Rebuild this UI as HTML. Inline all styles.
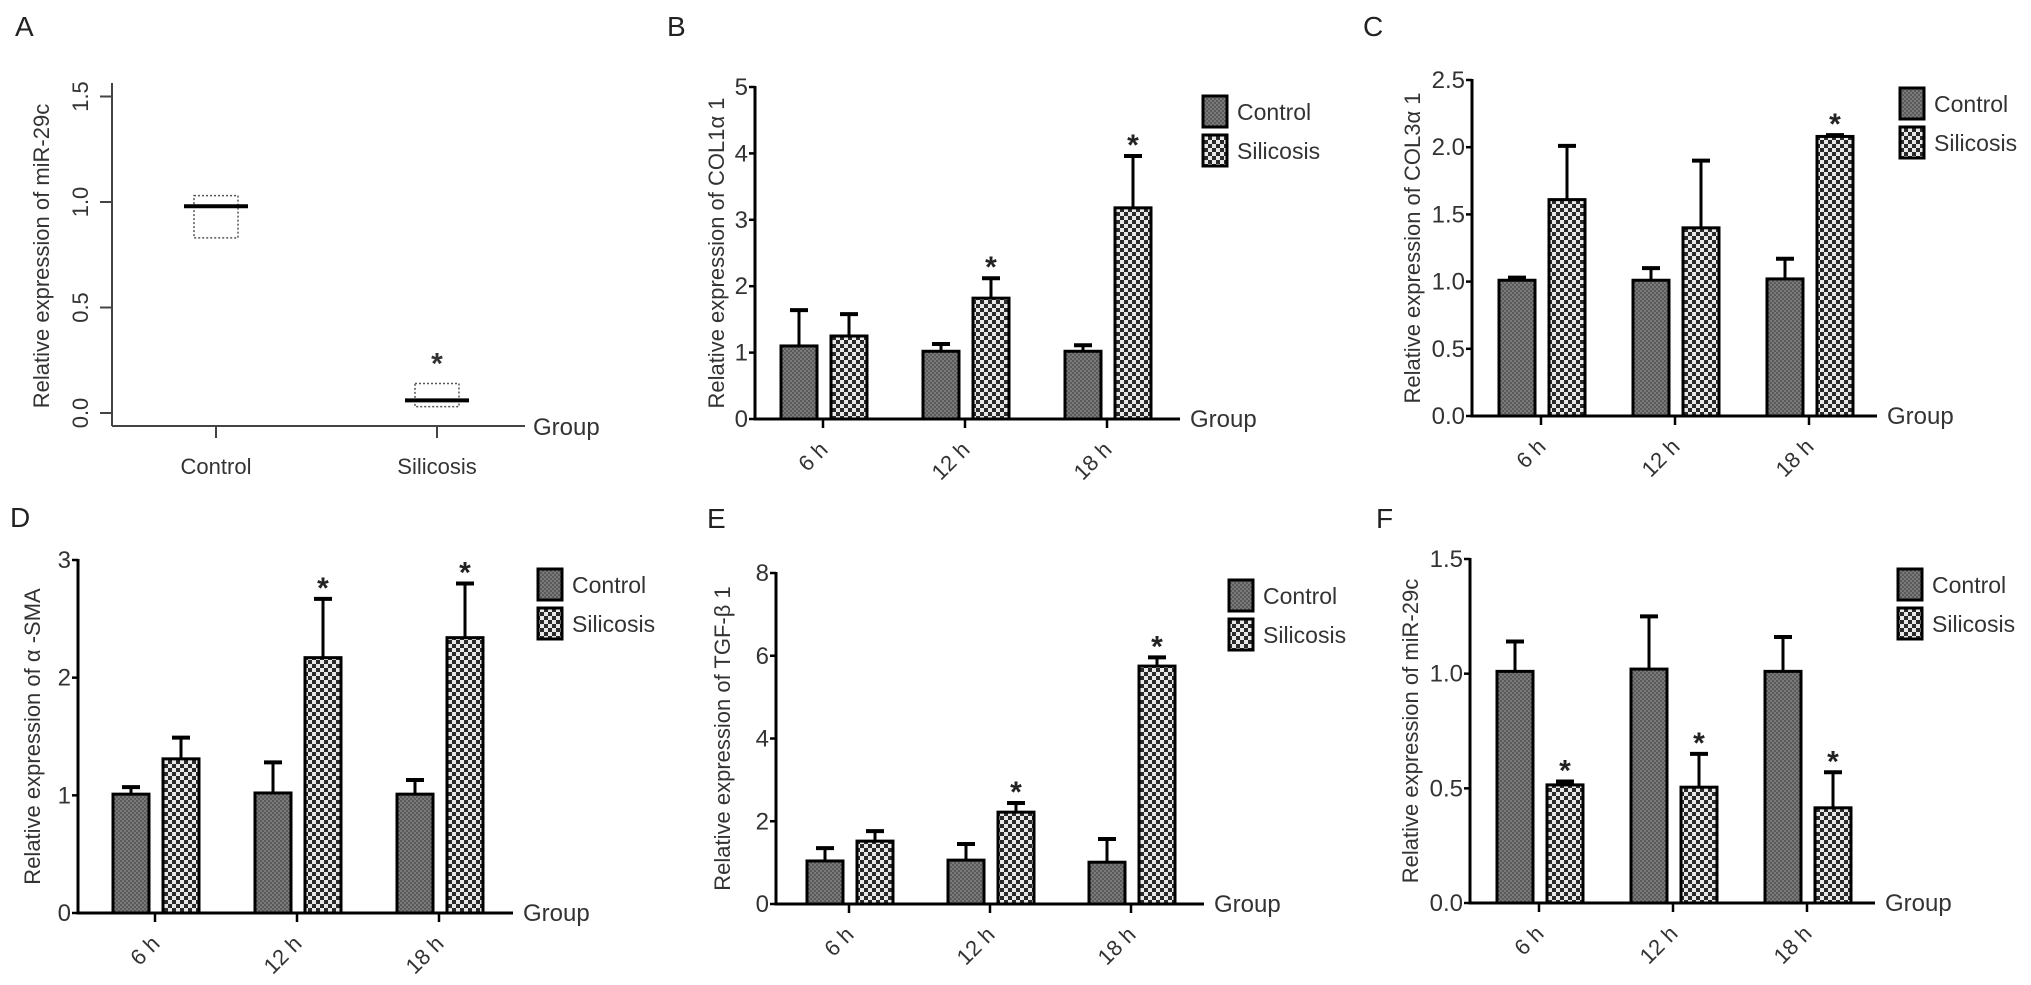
<!DOCTYPE html>
<html><head><meta charset="utf-8"><style>
html,body{margin:0;padding:0;background:#fff;}
svg{display:block;font-family:"Liberation Sans",sans-serif;}
</style></head><body>
<svg id="fig" width="2031" height="985" viewBox="0 0 2031 985" xmlns="http://www.w3.org/2000/svg">
<defs>
<pattern id="pCtrl" width="4" height="4" patternUnits="userSpaceOnUse">
<rect width="4" height="4" fill="#7a7a7a"/><rect width="2" height="2" fill="#5a5a5a"/><rect x="2" y="2" width="2" height="2" fill="#5a5a5a"/>
</pattern>
<pattern id="pSil" width="8" height="8" patternUnits="userSpaceOnUse">
<rect width="8" height="8" fill="#e8e8e8"/><rect width="4" height="4" fill="#2a2a2a"/><rect x="4" y="4" width="4" height="4" fill="#2a2a2a"/>
</pattern>
</defs>
</svg>
<script>
// Panel A data
const aGroups = ["Control", "Silicosis"];
const aMean = [0.98, 0.06];
const aBoxTop = [1.03, 0.14];
const aBoxBot = [0.83, 0.03];
const aTicks = [0.0, 0.5, 1.0, 1.5];
// Shared categories
const times = ["6 h", "12 h", "18 h"];
// Panel B
const bCtrl = [1.10, 1.02, 1.02];
const bCtrlErr = [0.54, 0.11, 0.09];
const bSil = [1.25, 1.82, 3.18];
const bSilErr = [0.33, 0.30, 0.78];
const bStars = [false, true, true];
const bTicks = ["0","1","2","3","4","5"];
// Panel C
const cCtrl = [1.01, 1.01, 1.02];
const cCtrlErr = [0.02, 0.09, 0.15];
const cSil = [1.61, 1.40, 2.08];
const cSilErr = [0.40, 0.50, 0.01];
const cStars = [false, false, true];
const cTicks = ["0.0","0.5","1.0","1.5","2.0","2.5"];
// Panel D
const dCtrl = [1.01, 1.02, 1.01];
const dCtrlErr = [0.06, 0.26, 0.12];
const dSil = [1.31, 2.17, 2.34];
const dSilErr = [0.18, 0.50, 0.46];
const dStars = [false, true, true];
const dTicks = ["0","1","2","3"];
// Panel E
const eCtrl = [1.04, 1.06, 1.01];
const eCtrlErr = [0.31, 0.39, 0.56];
const eSil = [1.52, 2.22, 5.75];
const eSilErr = [0.24, 0.22, 0.21];
const eStars = [false, true, true];
const eTicks = ["0","2","4","6","8"];
// Panel F
const fCtrl = [1.01, 1.02, 1.01];
const fCtrlErr = [0.13, 0.23, 0.15];
const fSil = [0.515, 0.505, 0.415];
const fSilErr = [0.015, 0.145, 0.155];
const fStars = [true, true, true];
const fTicks = ["0.0","0.5","1.0","1.5"];

const NS = "http://www.w3.org/2000/svg";
const svg = document.getElementById("fig");
function mk(tag, attrs, parent, text) {
  const e = document.createElementNS(NS, tag);
  for (const k in attrs) e.setAttribute(k, attrs[k]);
  if (text !== undefined) e.textContent = text;
  (parent || svg).appendChild(e);
  return e;
}

// ---------- Panel A ----------
(function(){
  const g = mk("g", {});
  
  
  const ax = 112, y0 = 413, perUnit = 211, xb = 426;
  const xs = [216, 437];
  const Y = v => y0 - v * perUnit;
  const lt = mk("text", {x:15, y:36, "font-size":28, fill:"#222"}, g, "A");
  
  
  const yl = mk("line", {x1:ax, y1:83, x2:ax, y2:xb, stroke:"#444", "stroke-width":2}, g);
  
  
  const xl = mk("line", {x1:ax, y1:xb, x2:525, y2:xb, stroke:"#444", "stroke-width":2}, g);
  
  
  aTicks.forEach(t => {
    mk("line", {x1:ax-12, y1:Y(t), x2:ax, y2:Y(t), stroke:"#444", "stroke-width":2}, g);
    const tx = mk("text", {x:0, y:0, "font-size":22, fill:"#333", "text-anchor":"middle", transform:`translate(${ax-32},${Y(t)}) rotate(-90) translate(0,8)`}, g, t.toFixed(1));
    
    
  });
  const ylab = mk("text", {"font-size":22, fill:"#333", "text-anchor":"middle", transform:`translate(49,256) rotate(-90)`}, g, "Relative expression of miR-29c");
  
  
  const gl = mk("text", {x:533, y:435, "font-size":24, fill:"#333"}, g, "Group");
  
  
  aGroups.forEach((name, i) => {
    const x = xs[i];
    mk("line", {x1:x, y1:xb, x2:x, y2:xb+12, stroke:"#444", "stroke-width":2}, g);
    const lbl = mk("text", {x:x, y:474, "font-size":22, fill:"#333", "text-anchor":"middle"}, g, name);
    
    
    const box = mk("rect", {x:x-22, y:Y(aBoxTop[i]), width:44, height:Y(aBoxBot[i])-Y(aBoxTop[i]), fill:"none", stroke:"#555", "stroke-width":1.5, "stroke-dasharray":"2,2"}, g);
    
    
    const m = mk("line", {x1:x-32, y1:Y(aMean[i]), x2:x+32, y2:Y(aMean[i]), stroke:"#000", "stroke-width":4}, g);
    
    
  });
  const st = mk("text", {x:xs[1], y:Y(aBoxTop[1])-10, "font-size":30, "font-weight":"bold", fill:"#333", "text-anchor":"middle"}, g, "*");
  
  
})();

// ---------- Bar panels ----------
function barPanel(p) {
  const g = mk("g", {});
  
  
  const ymax = parseFloat(p.ticks[p.ticks.length-1]);
  const Y = v => p.y0 - v / ymax * (p.y0 - p.yTop);
  const lt = mk("text", {x:p.lx, y:p.ly, "font-size":28, fill:"#222"}, g, p.id.toUpperCase());
  
  
  p.ctrl.forEach((v, i) => {
    const c = p.gx + i * p.sp;
    [[p.ctrl[i], p.ctrlErr[i], c-42, "url(#pCtrl)", "control"], [p.sil[i], p.silErr[i], c+8, "url(#pSil)", "silicosis"]].forEach(b => {
      const top = Y(b[0]), et = Y(b[0] + b[1]), bx = b[2] + 18;
      const el = mk("line", {x1:bx, y1:top, x2:bx, y2:et, stroke:"#000", "stroke-width":3}, g);
      
      
      mk("line", {x1:bx-9, y1:et, x2:bx+9, y2:et, stroke:"#000", "stroke-width":4}, g);
      const r = mk("rect", {x:b[2], y:top, width:36, height:p.y0-top, fill:b[3], stroke:"#000", "stroke-width":3}, g);
      
      
    });
    if (p.stars[i]) {
      const st = mk("text", {x:c+26, y:Y(p.sil[i]+p.silErr[i])-1, "font-size":30, "font-weight":"bold", fill:"#222", "text-anchor":"middle"}, g, "*");
      
      
    }
    mk("line", {x1:c, y1:p.y0, x2:c, y2:p.y0+9, stroke:"#000", "stroke-width":2.5}, g);
    const tl = mk("text", {"font-size":22, fill:"#333", "text-anchor":"end", transform:`translate(${c+6},${p.y0+32}) rotate(-45)`}, g, times[i]);
    
    
  });
  const ya = mk("line", {x1:p.ax, y1:p.yTop-1, x2:p.ax, y2:p.y0+1.5, stroke:"#000", "stroke-width":3}, g);
  
  
  const xa = mk("line", {x1:p.ax-1.5, y1:p.y0, x2:p.xEnd, y2:p.y0, stroke:"#000", "stroke-width":3}, g);
  
  
  p.ticks.forEach(t => {
    const y = Y(parseFloat(t));
    mk("line", {x1:p.ax-6, y1:y, x2:p.ax, y2:y, stroke:"#000", "stroke-width":2.5}, g);
    const tx = mk("text", {x:p.ax-7, y:y+8, "font-size":24, fill:"#333", "text-anchor":"end"}, g, t);
    
    
  });
  const ylab = mk("text", {"font-size":22, fill:"#333", "text-anchor":"middle", transform:`translate(${p.ylx},${(p.y0+p.yTop)/2}) rotate(-90)`}, g, p.ylabel);
  
  
  const gl = mk("text", {x:p.xEnd+10, y:p.y0+8, "font-size":24, fill:"#333"}, g, "Group");
  
  
  [["Control","url(#pCtrl)"],["Silicosis","url(#pSil)"]].forEach((L, k) => {
    const yy = p.legy + k * 39;
    const lb = mk("rect", {x:p.legx, y:yy, width:24, height:31, fill:L[1], stroke:"#000", "stroke-width":3}, g);
    
    
    const ltx = mk("text", {x:p.legx+34, y:yy+24, "font-size":23, fill:"#333"}, g, L[0]);
    
    
  });
}

barPanel({id:"b", ctrl:bCtrl, ctrlErr:bCtrlErr, sil:bSil, silErr:bSilErr, stars:bStars, ticks:bTicks,
  ax:755, y0:419, yTop:87, gx:823, sp:142, xEnd:1180, legx:1203, legy:96, lx:667, ly:36, ylx:724,
  ylabel:"Relative expression of COL1\u03b1 1"});
barPanel({id:"c", ctrl:cCtrl, ctrlErr:cCtrlErr, sil:cSil, silErr:cSilErr, stars:cStars, ticks:cTicks,
  ax:1472, y0:416, yTop:80, gx:1541, sp:134, xEnd:1877, legx:1900, legy:88, lx:1363, ly:36, ylx:1420,
  ylabel:"Relative expression of COL3\u03b1 1"});
barPanel({id:"d", ctrl:dCtrl, ctrlErr:dCtrlErr, sil:dSil, silErr:dSilErr, stars:dStars, ticks:dTicks,
  ax:78, y0:913, yTop:560, gx:155, sp:142, xEnd:513, legx:538, legy:569, lx:10, ly:527, ylx:40,
  ylabel:"Relative expression of \u03b1 -SMA"});
barPanel({id:"e", ctrl:eCtrl, ctrlErr:eCtrlErr, sil:eSil, silErr:eSilErr, stars:eStars, ticks:eTicks,
  ax:776, y0:904, yTop:573, gx:849, sp:141, xEnd:1204, legx:1229, legy:580, lx:707, ly:528, ylx:730,
  ylabel:"Relative expression of TGF-\u03b2 1"});
barPanel({id:"f", ctrl:fCtrl, ctrlErr:fCtrlErr, sil:fSil, silErr:fSilErr, stars:fStars, ticks:fTicks,
  ax:1470, y0:903, yTop:559, gx:1539, sp:134, xEnd:1875, legx:1898, legy:569, lx:1376, ly:528, ylx:1418,
  ylabel:"Relative expression of miR-29c"});
</script>
</body></html>
